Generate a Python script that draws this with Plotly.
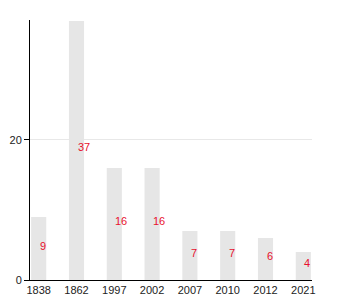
import plotly.graph_objects as go

categories = ["1838", "1862", "1997", "2002", "2007", "2010", "2012", "2021"]
values = [9, 37, 16, 16, 7, 7, 6, 4]
y_ticks = [0, 20]

fig = go.Figure()
fig.add_trace(go.Bar(
    x=categories, y=values,
    marker=dict(color="#e6e6e6", line=dict(width=0)),
    width=0.4, hoverinfo="skip",
))

for i, v in enumerate(values):
    fig.add_annotation(
        x=i, y=v / 2, text=str(v), showarrow=False,
        xanchor="left", yanchor="middle", xshift=-1, yshift=3,
        font=dict(family="Liberation Sans, Arial, sans-serif", size=11, color="#e8112d"),
    )

fig.update_layout(
    width=350, height=300,
    margin=dict(l=30, r=38, t=20, b=20, autoexpand=False),
    paper_bgcolor="white", plot_bgcolor="white",
    showlegend=False,
    font=dict(family="Liberation Sans, Arial, sans-serif", size=11, color="#222"),
    xaxis=dict(
        type="category", range=[-0.23, 7.23], automargin=False,
        showline=True, linecolor="black", linewidth=1,
        showgrid=False, ticks="", tickfont=dict(size=11),
    ),
    yaxis=dict(
        range=[0, 37.14], tickvals=y_ticks, automargin=False,
        showline=True, linecolor="black", linewidth=1,
        showgrid=True, gridcolor="#e8e8e8", gridwidth=1,
        ticks="outside", ticklen=5, tickcolor="black",
        zeroline=False, tickfont=dict(size=11),
    ),
)

fig.write_html("out.html")
